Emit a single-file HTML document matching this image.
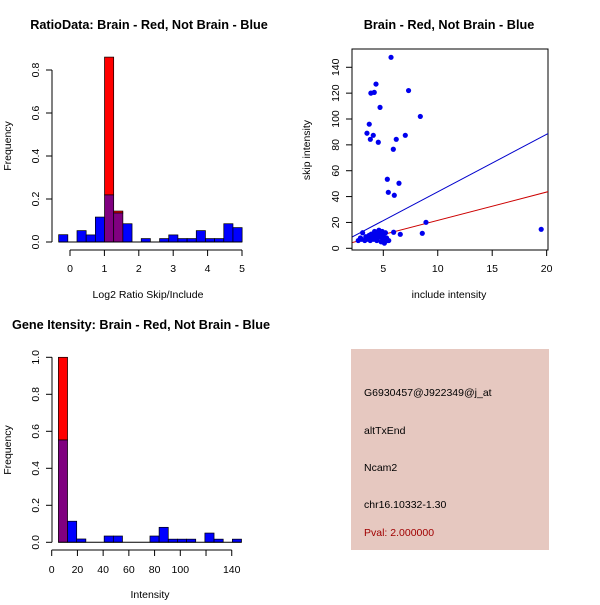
<!DOCTYPE html>
<html><head><meta charset="utf-8"><style>
body{margin:0;background:#fff}
svg text{font-family:"Liberation Sans",sans-serif;font-size:10.5px;fill:#000}
.t{font-weight:bold;font-size:12.7px}
</style></head><body>
<svg id="s" width="600" height="600" xmlns="http://www.w3.org/2000/svg">
<rect width="600" height="600" fill="#fff"/>
<text class="t" x="149" y="29" text-anchor="middle">RatioData: Brain - Red, Not Brain - Blue</text>
<text class="t" x="449" y="29" text-anchor="middle">Brain - Red, Not Brain - Blue</text>
<text class="t" x="141" y="329" text-anchor="middle">Gene Itensity: Brain - Red, Not Brain - Blue</text>
<g id="p1"></g>
<g id="p2"></g>
<g id="p3"></g>
<g>
<rect x="351" y="349" width="198" height="201" fill="#e6c8c0"/>
<text x="364" y="396">G6930457@J922349@j_at</text>
<text x="364" y="434">altTxEnd</text>
<text x="364" y="471">Ncam2</text>
<text x="364" y="508">chr16.10332-1.30</text>
<text x="364" y="536" style="fill:#a00000">Pval: 2.000000</text>
</g>
</svg>
<script>
// Ratio histogram data
const ratioStart = -0.33, ratioWidth = 0.2667;
const ratioBlue = [0.034,0,0.053,0.033,0.116,0.219,0.135,0.085,0,0.016,0,0.016,0.033,0.016,0.016,0.053,0.016,0.016,0.085,0.067];
const ratioRed  = [0,0,0,0,0,0.86,0.144,0,0,0,0,0,0,0,0,0,0,0,0,0];
const ratioXTicks = [0,1,2,3,4,5];
const ratioYTicks = ["0.0","0.2","0.4","0.6","0.8"];
// Intensity histogram data
const intStart = 5.2, intWidth = 7.12;
const intBlue = [0.553,0.114,0.018,0,0,0.034,0.034,0,0,0,0.034,0.081,0.017,0.017,0.017,0,0.05,0.017,0,0.017];
const intRed  = [1.0,0,0,0,0,0,0,0,0,0,0,0,0,0,0,0,0,0,0,0];
const intXTicks = [0,20,40,60,80,100,120,140];
const intXLabels = ["0","20","40","60","80","100","","140"];
const intYTicks = ["0.0","0.2","0.4","0.6","0.8","1.0"];
// Scatter data
const scX = [5.71,4.33,3.86,4.17,7.32,4.70,8.40,3.71,3.50,4.08,3.81,4.54,6.19,7.02,5.92,5.37,6.44,5.46,6.01,8.92,8.58,19.5,6.56,5.95,
 2.7,2.9,3.0,3.1,3.3,3.4,3.5,3.6,3.8,3.9,4.0,4.1,4.2,4.3,4.4,4.5,4.6,4.7,4.8,4.9,5.0,5.0,5.1,5.2,5.3,5.5,4.4,3.7,4.9,5.4];
const scY = [147.7,127,120,120.6,122,109,102,96,89,87.4,84.3,82,84.3,87.4,76.6,53.4,50.3,43.3,41,20.1,11.6,14.7,10.8,12.4,
 6,8,7,12,6,9,7,8,6,11,9,7,13,10,6,8,14,11,5,13,7,10,4,12,8,6,12,10,8,6];
const blueLine = [-0.8,4.45];
const redLine = [-0.3,2.19];
const scXTicks = [5,10,15,20];
const scYTicks = [0,20,40,60,80,100,120,140];

const NS="http://www.w3.org/2000/svg";
function mk(parent,tag,attrs,txt){const e=document.createElementNS(NS,tag);for(const k in attrs)e.setAttribute(k,attrs[k]);if(txt!==undefined)e.textContent=txt;parent.appendChild(e);return e;}

function hist(g,start,w,blue,red,sx,sy,name){
  for(let i=0;i<blue.length;i++){
    const x0=sx(start+i*w),x1=sx(start+(i+1)*w);
    const b=blue[i],r=red[i],m=Math.min(b,r),mx=Math.max(b,r);
    if(mx<=0)continue;
    if(r>b){const e=mk(g,'rect',{x:x0,y:sy(r),width:x1-x0,height:sy(b)-sy(r),fill:'#ff0000',stroke:'#000','stroke-width':0.7});
      
      }
    if(b>r){const e=mk(g,'rect',{x:x0,y:sy(b),width:x1-x0,height:sy(r)-sy(b),fill:'#0000ff',stroke:'#000','stroke-width':0.7});
      
      }
    if(m>0){const e=mk(g,'rect',{x:x0,y:sy(m),width:x1-x0,height:sy(0)-sy(m),fill:'#800080',stroke:'#000','stroke-width':0.7});
      
      }
  }
}
function yaxis(g,x,vals,labels,sy,lx){
  mk(g,'line',{x1:x,x2:x,y1:sy(vals[0]),y2:sy(vals[vals.length-1]),stroke:'#000'});
  vals.forEach((v,i)=>{mk(g,'line',{x1:x-6,x2:x,y1:sy(v),y2:sy(v),stroke:'#000'});
    const t=mk(g,'text',{x:lx,y:sy(v),'text-anchor':'middle',transform:`rotate(-90 ${lx} ${sy(v)})`},labels[i]);
    
    });
}
function xaxis(g,y,vals,labels,sx,ly){
  mk(g,'line',{x1:sx(vals[0]),x2:sx(vals[vals.length-1]),y1:y,y2:y,stroke:'#000'});
  vals.forEach((v,i)=>{mk(g,'line',{x1:sx(v),x2:sx(v),y1:y,y2:y+6,stroke:'#000'});
    const t=mk(g,'text',{x:sx(v),y:ly,'text-anchor':'middle'},labels[i]);
    
    });
}
function label(g,x,y,txt,rot,name){const t=mk(g,'text',{x:x,y:y,'text-anchor':'middle',transform:rot?`rotate(-90 ${x} ${y})`:''},txt);
  
  }

// Plot 1
{const g=document.getElementById('p1');
 const sx=v=>70+v*34.4, sy=v=>242-v*215;
 hist(g,ratioStart,ratioWidth,ratioBlue,ratioRed,sx,sy,'ratio');
 mk(g,'line',{x1:sx(ratioStart),x2:sx(ratioStart+20*ratioWidth),y1:242,y2:242,stroke:'#000'});
 yaxis(g,52,[0,0.2,0.4,0.6,0.8],ratioYTicks,sy,39);
 xaxis(g,250,ratioXTicks,ratioXTicks.map(String),sx,272);
 label(g,148,298,'Log2 Ratio Skip/Include',false,'ratio-x-title');
 label(g,11,146,'Frequency',true,'ratio-y-title');}
// Plot 3
{const g=document.getElementById('p3');
 const sx=v=>51.7+v*1.286, sy=v=>542.3-v*185;
 hist(g,intStart,intWidth,intBlue,intRed,sx,sy,'intensity');
 mk(g,'line',{x1:sx(intStart),x2:sx(intStart+20*intWidth),y1:542.3,y2:542.3,stroke:'#000'});
 yaxis(g,52,[0,0.2,0.4,0.6,0.8,1.0],intYTicks,sy,39);
 xaxis(g,550,intXTicks,intXLabels,sx,573);
 label(g,150,598,'Intensity',false,'intensity-x-title');
 label(g,11,450,'Frequency',true,'intensity-y-title');}
// Plot 2
{const g=document.getElementById('p2');
 const x0=2.1,x1=20.2;
 const sx=v=>383.3+(v-5)*10.89, sy=v=>248.3-v*1.293;
 mk(g,'rect',{x:352,y:49,width:196,height:201,fill:'none',stroke:'#000'});
 const cp=mk(g,'clipPath',{id:'cp'});mk(cp,'rect',{x:352,y:49,width:196,height:201});
 const lg=mk(g,'g',{'clip-path':'url(#cp)'});
 const bl=mk(lg,'line',{x1:sx(x0),y1:sy(blueLine[0]+blueLine[1]*x0),x2:sx(x1),y2:sy(blueLine[0]+blueLine[1]*x1),stroke:'#0000cc'});
 
 
 const rl=mk(lg,'line',{x1:sx(x0),y1:sy(redLine[0]+redLine[1]*x0),x2:sx(x1),y2:sy(redLine[0]+redLine[1]*x1),stroke:'#cc0000'});
 
 
 for(let i=0;i<scX.length;i++){const c=mk(g,'circle',{cx:sx(scX[i]),cy:sy(scY[i]),r:2.6,fill:'#0000ee'});
   
   }
 yaxis(g,352,scYTicks,scYTicks.map(String),sy,339);
 mk(g,'line',{x1:sx(5),x2:sx(20),y1:250,y2:250,stroke:'#000'});
 scXTicks.forEach(v=>{mk(g,'line',{x1:sx(v),x2:sx(v),y1:250,y2:256,stroke:'#000'});
   const t=mk(g,'text',{x:sx(v),y:272,'text-anchor':'middle'},String(v));
   
   });
 label(g,449,298,'include intensity',false,'scatter-x-title');
 label(g,310,150,'skip intensity',true,'scatter-y-title');}
</script>
</body></html>
